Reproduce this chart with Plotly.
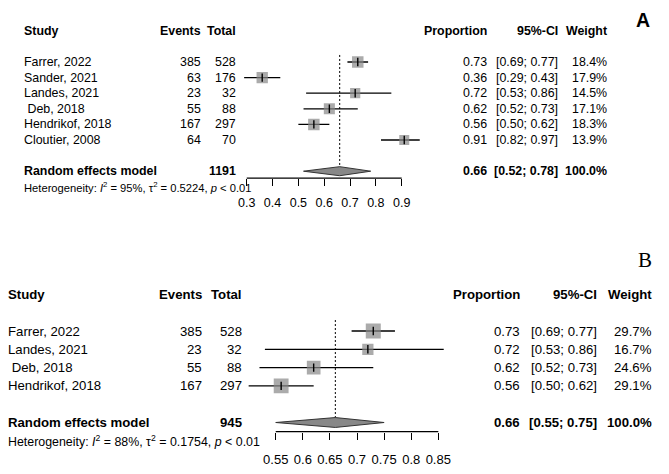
import math
import plotly.graph_objects as go

W, H = 669, 474

# ---------------- data: panel A ----------------
A_studies = ["Farrer, 2022", "Sander, 2021", "Landes, 2021", " Deb, 2018", "Hendrikof, 2018", "Cloutier, 2008"]
A_events = [385, 63, 23, 55, 167, 64]
A_total = [528, 176, 32, 88, 297, 70]
A_prop = [0.73, 0.36, 0.72, 0.62, 0.56, 0.91]
A_lo = [0.69, 0.29, 0.53, 0.52, 0.50, 0.82]
A_hi = [0.77, 0.43, 0.86, 0.73, 0.62, 0.97]
A_weight = [18.4, 17.9, 14.5, 17.1, 18.3, 13.9]
A_re = [0.66, 0.52, 0.78]
A_re_total = 1191
A_i2 = "95%"
A_tau2 = "0.5224"
A_ticks = [0.3, 0.4, 0.5, 0.6, 0.7, 0.8, 0.9]
A_ticktext = ["0.3", "0.4", "0.5", "0.6", "0.7", "0.8", "0.9"]

# ---------------- data: panel B ----------------
B_studies = ["Farrer, 2022", "Landes, 2021", " Deb, 2018", "Hendrikof, 2018"]
B_events = [385, 23, 55, 167]
B_total = [528, 32, 88, 297]
B_prop = [0.73, 0.72, 0.62, 0.56]
B_lo = [0.69, 0.53, 0.52, 0.50]
B_hi = [0.77, 0.86, 0.73, 0.62]
B_weight = [29.7, 16.7, 24.6, 29.1]
B_re = [0.66, 0.55, 0.75]
B_re_total = 945
B_i2 = "88%"
B_tau2 = "0.1754"
B_ticks = [0.55, 0.60, 0.65, 0.70, 0.75, 0.80, 0.85]
B_ticktext = ["0.55", "0.6", "0.65", "0.7", "0.75", "0.8", "0.85"]

# ---------------- layout of panels (pixel geometry) ----------------
panels = [
    dict(name="A", studies=A_studies, events=A_events, total=A_total, prop=A_prop,
         lo=A_lo, hi=A_hi, weight=A_weight, re=A_re, re_total=A_re_total,
         i2=A_i2, tau2=A_tau2, ticks=A_ticks, ticktext=A_ticktext,
         xrange=[0.25, 1.0], xpx=[233.8, 427.5],
         row0=62.0, dy=15.6, krange=[8.45, -1.5],
         font=12.4, hetfont=11.2, tickfont=12.5, standoff=6,
         x_study=23, x_events=202, x_total=237, x_prop=488, x_ci=559, x_w=608,
         sq_ref=(11.5, 18.4), dia_h=0.29, line_top=0.55,
         letter=dict(x=643, y=20, font="Liberation Sans, Arial, sans-serif", size=19.5, bold=True)),
    dict(name="B", studies=B_studies, events=B_events, total=B_total, prop=B_prop,
         lo=B_lo, hi=B_hi, weight=B_weight, re=B_re, re_total=B_re_total,
         i2=B_i2, tau2=B_tau2, ticks=B_ticks, ticktext=B_ticktext,
         xrange=[0.48, 0.90], xpx=[237.8, 465.4],
         row0=331.0, dy=18.3, krange=[6.5, -1.5],
         font=13.2, hetfont=12.4, tickfont=13, standoff=9,
         x_study=7, x_events=203, x_total=243, x_prop=521, x_ci=598, x_w=653,
         sq_ref=(15.0, 29.7), dia_h=0.27, line_top=0.4,
         letter=dict(x=645, y=260, font="Liberation Serif, Times New Roman, serif", size=21, bold=False)),
]

FONT = "Liberation Sans, Arial, sans-serif"
GRAY = "#888888"

fig = go.Figure()
annotations = []
shapes = []


def txt(x_px, y_px, text, anchor, size, bold=False, family=FONT):
    if bold:
        text = "<b>" + text + "</b>"
    annotations.append(dict(
        x=x_px / W, y=1 - y_px / H, xref="paper", yref="paper",
        text=text, showarrow=False, xanchor=anchor, yanchor="middle",
        font=dict(family=family, size=size, color="black"),
        borderpad=0,
    ))


for i, p in enumerate(panels):
    sfx = "" if i == 0 else str(i + 1)
    xa, ya = "x" + sfx, "y" + sfx
    row_px = lambda k, p=p: p["row0"] + (k - 1) * p["dy"]
    kb, kt = p["krange"]
    ydom = [1 - row_px(kb) / H, 1 - row_px(kt) / H]
    xdom = [p["xpx"][0] / W, p["xpx"][1] / W]

    fig.layout["xaxis" + sfx] = dict(
        domain=xdom, range=p["xrange"], anchor=ya, showgrid=False, zeroline=False,
        showline=False, ticks="outside", ticklen=7, tickwidth=1.2, tickcolor="black",
        tickvals=p["ticks"], ticktext=p["ticktext"], ticklabelstandoff=p["standoff"],
        tickfont=dict(family=FONT, size=p["tickfont"], color="black"), fixedrange=True,
    )
    fig.layout["yaxis" + sfx] = dict(
        domain=ydom, range=p["krange"], anchor=xa, visible=False, fixedrange=True,
    )

    n = len(p["studies"])
    ks = list(range(1, n + 1))
    k_re = n + 2

    # CI lines
    cx, cy = [], []
    for lo, hi, k in zip(p["lo"], p["hi"], ks):
        cx += [lo, hi, None]
        cy += [k, k, None]
    fig.add_trace(go.Scatter(
        x=cx, y=cy, mode="lines", xaxis=xa, yaxis=ya,
        line=dict(color="black", width=1.3), showlegend=False, hoverinfo="skip"))

    # squares sized by weight
    ref_size, ref_w = p["sq_ref"]
    sizes = [ref_size * math.sqrt(w / ref_w) for w in p["weight"]]
    fig.add_trace(go.Scatter(
        x=p["prop"], y=ks, mode="markers", xaxis=xa, yaxis=ya,
        marker=dict(symbol="square", size=sizes, color=GRAY, line=dict(width=0)),
        showlegend=False, hoverinfo="skip"))

    # centre ticks
    fig.add_trace(go.Scatter(
        x=p["prop"], y=ks, mode="markers", xaxis=xa, yaxis=ya,
        marker=dict(symbol="line-ns", size=6, line=dict(width=1.4, color="black")),
        showlegend=False, hoverinfo="skip"))

    # dotted line at pooled estimate
    est, rlo, rhi = p["re"]
    fig.add_trace(go.Scatter(
        x=[est, est], y=[p["line_top"], k_re], mode="lines", xaxis=xa, yaxis=ya,
        line=dict(color="black", width=1, dash="2px,2px"), showlegend=False, hoverinfo="skip"))

    # diamond
    h = p["dia_h"]
    fig.add_trace(go.Scatter(
        x=[rlo, est, rhi, est, rlo], y=[k_re, k_re - h, k_re, k_re + h, k_re],
        mode="lines", fill="toself", fillcolor=GRAY, xaxis=xa, yaxis=ya,
        line=dict(color="#333333", width=1), showlegend=False, hoverinfo="skip"))

    # axis baseline spanning tick range
    shapes.append(dict(type="line", xref=xa, yref=ya + " domain",
                       x0=p["ticks"][0], x1=p["ticks"][-1], y0=0, y1=0,
                       line=dict(color="black", width=1.2)))

    f, hf = p["font"], p["hetfont"]
    # headers
    hy = row_px(-1)
    txt(p["x_study"], hy, "Study", "left", f, bold=True)
    txt(p["x_events"], hy, "Events", "right", f, bold=True)
    txt(p["x_total"], hy, "Total", "right", f, bold=True)
    txt(p["x_prop"], hy, "Proportion", "right", f, bold=True)
    txt(p["x_ci"], hy, "95%-CI", "right", f, bold=True)
    txt(p["x_w"], hy, "Weight", "right", f, bold=True)

    for j in range(n):
        yy = row_px(ks[j])
        name = p["studies"][j]
        name = name.replace(" ", "\u00a0", 1) if name.startswith(" ") else name
        txt(p["x_study"], yy, name, "left", f)
        txt(p["x_events"], yy, str(p["events"][j]), "right", f)
        txt(p["x_total"], yy, str(p["total"][j]), "right", f)
        txt(p["x_prop"], yy, f"{p['prop'][j]:.2f}", "right", f)
        txt(p["x_ci"], yy, f"[{p['lo'][j]:.2f};\u00a0{p['hi'][j]:.2f}]", "right", f)
        txt(p["x_w"], yy, f"{p['weight'][j]:.1f}%", "right", f)

    yy = row_px(k_re)
    txt(p["x_study"], yy, "Random effects model", "left", f, bold=True)
    txt(p["x_total"], yy, str(p["re_total"]), "right", f, bold=True)
    txt(p["x_prop"], yy, f"{est:.2f}", "right", f, bold=True)
    txt(p["x_ci"], yy, f"[{rlo:.2f};\u00a0{rhi:.2f}]", "right", f, bold=True)
    txt(p["x_w"], yy, "100.0%", "right", f, bold=True)

    het = (f"Heterogeneity: <i>I</i><sup>2</sup> = {p['i2']}, "
           f"\u03c4<sup>2</sup> = {p['tau2']}, <i>p</i> &lt; 0.01")
    txt(p["x_study"], row_px(k_re + 1), het, "left", hf)

    L = p["letter"]
    txt(L["x"], L["y"], p["name"], "center", L["size"], bold=L["bold"], family=L["font"])

fig.update_layout(
    width=W, height=H, margin=dict(l=0, r=0, t=0, b=0),
    paper_bgcolor="white", plot_bgcolor="white",
    annotations=annotations, shapes=shapes, showlegend=False,
)

fig.write_html(
    "out.html",
    config={"displayModeBar": False},
    post_script="document.body.style.margin='0';document.body.style.overflow='hidden';",
)
